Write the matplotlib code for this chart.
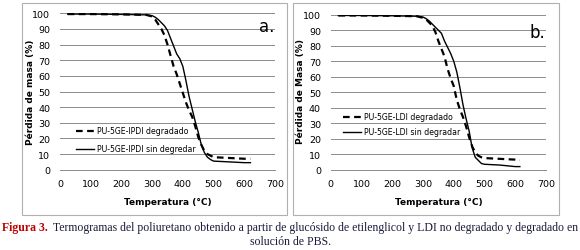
import matplotlib.pyplot as plt
from matplotlib.patches import Rectangle

# panel a: PU-5GE-IPDI
temp_a_deg = [25, 100, 200, 280, 300, 310, 320, 330, 340, 350, 360, 370, 380, 390, 400,
              410, 420, 430, 440, 450, 460, 470, 480, 490, 500, 550, 600, 620]
mass_a_deg = [99.5, 99.5, 99.3, 99, 98, 96, 93, 90, 86, 80, 73, 66, 61, 55, 49,
              43, 38, 34, 28, 21, 16, 12, 10, 9, 8, 7.5, 7, 7]
temp_a_sin = [25, 100, 200, 280, 300, 310, 320, 330, 340, 350, 360, 370, 380, 390, 400,
              410, 420, 430, 440, 450, 460, 470, 480, 490, 500, 550, 600, 620]
mass_a_sin = [99.5, 99.5, 99.3, 99, 98.5, 97.5, 96, 94, 92, 89, 84, 79, 74, 71, 66,
              57, 47, 39, 31, 24, 16, 11, 8, 6.5, 5.5, 5, 4.5, 4.5]

# panel b: PU-5GE-LDI
temp_b_deg = [25, 100, 200, 280, 300, 310, 320, 330, 340, 350, 360, 370, 380, 390, 400,
              410, 420, 430, 440, 450, 460, 470, 480, 490, 500, 550, 600, 615]
mass_b_deg = [99.5, 99.5, 99.3, 99, 98, 97, 95, 93, 89, 83, 78, 73, 65, 59, 54,
              45, 39, 34, 28, 21, 15, 11, 9, 8, 7.5, 7, 6.5, 6]
temp_b_sin = [25, 100, 200, 280, 300, 310, 320, 330, 340, 350, 360, 370, 380, 390, 400,
              410, 420, 430, 440, 450, 460, 470, 480, 490, 500, 550, 600, 615]
mass_b_sin = [99.5, 99.5, 99.3, 99, 98.5, 97.5, 96, 94, 92, 90, 88, 83, 79, 75, 70,
              63, 53, 42, 33, 25, 14, 8, 6, 4, 3.5, 3, 2, 2]

xticks = [0, 100, 200, 300, 400, 500, 600, 700]
yticks = [0, 10, 20, 30, 40, 50, 60, 70, 80, 90, 100]

plt.rcParams['font.family'] = ['Liberation Sans Narrow', 'DejaVu Sans']

fig = plt.figure(figsize=(5.8, 2.51), dpi=100)
W, H = 580, 251


def fx(px):
    return px / W


def fy(py):
    return 1 - py / H


# panel frames
for x0, x1 in [(22, 287), (293, 559)]:
    fig.patches.append(Rectangle((fx(x0), fy(216)), fx(x1) - fx(x0), fy(4) - fy(216),
                                 transform=fig.transFigure, fill=False,
                                 edgecolor='#b0b0b0', linewidth=0.8))

panels = [
    dict(pos=(60, 275, 14.3), deg=(temp_a_deg, mass_a_deg), sin=(temp_a_sin, mass_a_sin),
         ylabel='Pérdida de masa (%)', tag='a.', tagxy=(267, 27),
         leg=['PU-5GE-IPDI degradado', 'PU-5GE-IPDI sin degredar'], legxy=(76, 132, 150), yl=30),
    dict(pos=(330.7, 546, 15.7), deg=(temp_b_deg, mass_b_deg), sin=(temp_b_sin, mass_b_sin),
         ylabel='Pérdida de Masa (%)', tag='b.', tagxy=(537, 33),
         leg=['PU-5GE-LDI degradado', 'PU-5GE-LDI sin degradar'], legxy=(343, 118, 133), yl=300),
]

for p in panels:
    l, r, t = p['pos']
    ax = fig.add_axes([fx(l), fy(170.7), fx(r) - fx(l), fy(t) - fy(170.7)])
    ax.plot(*p['deg'], color='black', linestyle=(0, (3, 2)), linewidth=1.6)
    ax.plot(*p['sin'], color='black', linewidth=1.0)
    ax.set_xlim(0, 700)
    ax.set_ylim(0, 100)
    ax.set_xticks(xticks)
    ax.set_yticks(yticks)
    ax.tick_params(length=0, labelsize=6.8, pad=7)
    ax.grid(axis='y', color='#8c8c8c', linewidth=0.7)
    ax.set_axisbelow(True)
    for s in ['top', 'right', 'left']:
        ax.spines[s].set_visible(False)
    ax.spines['bottom'].set_color('#8c8c8c')
    ax.spines['bottom'].set_linewidth(0.7)

    fig.text(fx((l + r) / 2), fy(203), 'Temperatura (°C)', ha='center', va='center',
             fontsize=6.5, fontweight='bold')
    fig.text(fx(p['yl']), fy(92), p['ylabel'], rotation=90, ha='center', va='center',
             fontsize=6.5, fontweight='bold')
    fig.text(fx(p['tagxy'][0]), fy(p['tagxy'][1]), p['tag'], ha='center', va='center',
             fontsize=12)

    # legend
    lx, ly1, ly2 = p['legxy']
    lines = [((3, 2), 1.6, ly1), ('-', 1.0, ly2)]
    for (ls, lw, ly), lab in zip(lines, p['leg']):
        ls = (0, ls) if isinstance(ls, tuple) else ls
        fig.add_artist(plt.Line2D([fx(lx), fx(lx + 18)], [fy(ly), fy(ly)],
                                  color='black', linestyle=ls, linewidth=lw,
                                  transform=fig.transFigure))
        fig.text(fx(lx + 21), fy(ly), lab, ha='left', va='center', fontsize=5.6)

# caption
cap_font = ['Liberation Serif', 'DejaVu Serif']
fig.text(fx(2), fy(228), 'Figura 3.', color='#c00000', ha='left', va='center',
         fontsize=8.5, fontweight='bold', family=cap_font)
fig.text(fx(578), fy(228),
         'Termogramas del poliuretano obtenido a partir de glucósido de etilenglicol y LDI no degradado y degradado en',
         color='#1a1a3a', ha='right', va='center', fontsize=8.5, family=cap_font)
fig.text(0.5, fy(242), 'solución de PBS.', color='#1a1a3a', ha='center', va='center',
         fontsize=8.5, family=cap_font)

fig.savefig('out.png', dpi=100)
